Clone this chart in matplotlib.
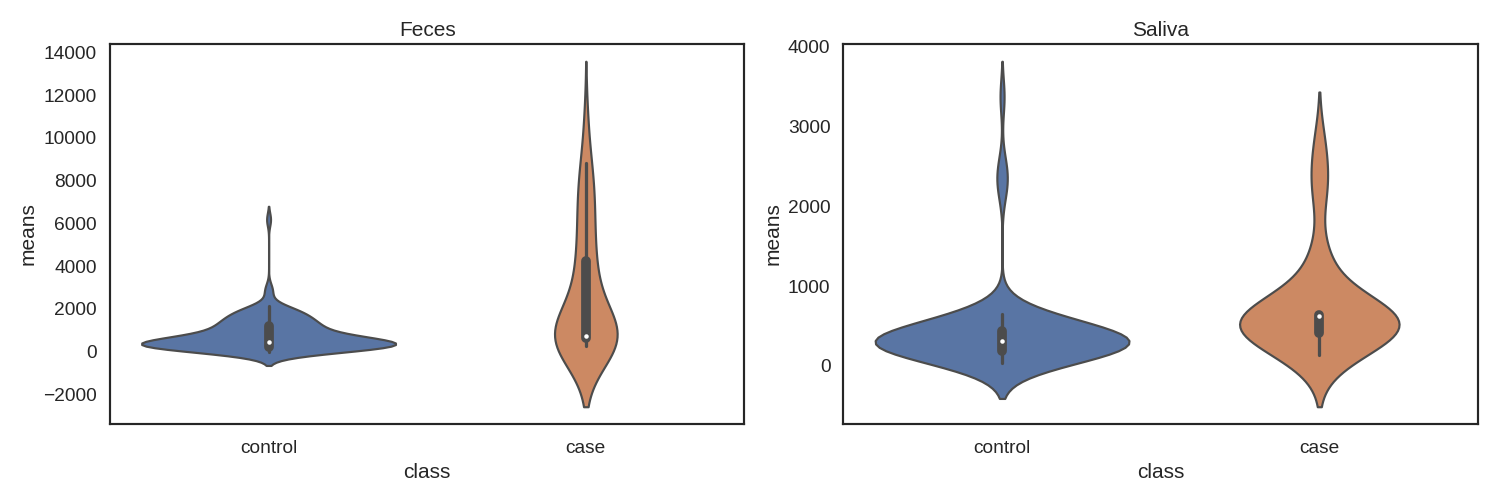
import numpy as np
import pandas as pd
import matplotlib
matplotlib.use("Agg")
import matplotlib.pyplot as plt
import seaborn as sns

# per-sample means
feces_control = [-40, 20, 60, 88, 108, 122, 133, 142, 149, 155,
                 160, 164, 167, 170, 172, 174, 175, 176, 177, 178,
                 178, 179, 179, 180, 180, 180, 181, 181, 182, 182,
                 186, 220, 255, 285, 310, 330, 347, 361, 373, 384,
                 393, 401, 408, 414, 420, 425, 430, 434, 438, 442,
                 445, 448, 451, 453, 455, 457, 458, 459, 459, 460,
                 462, 483, 505, 526, 548, 571, 593, 616, 639, 663,
                 686, 710, 735, 759, 784, 809, 835, 860, 886, 913,
                 939, 966, 993, 1021, 1048, 1076, 1105, 1133, 1162, 1188,
                 1200, 1228, 1256, 1285, 1314, 1344, 1375, 1406, 1438, 1470,
                 1503, 1537, 1571, 1606, 1641, 1677, 1714, 1751, 1789, 1827,
                 1866, 1906, 1946, 1987, 2028, 2070, 2120,
                 2750, 2950, 6180]
feces_case = [240, 310, 380, 430, 480, 520, 560, 590, 620, 640,
              653, 662, 670, 680, 688, 694, 699, 703, 706, 709,
              711, 1000, 1500, 2000, 2500, 3000, 3400, 3700, 3900, 4000,
              5000, 5400, 5900, 6400, 6900, 7400, 7900, 8400, 8830, 10760]
saliva_control = [37, 60, 80, 95, 108, 118, 126, 133, 140, 146,
                  152, 157, 162, 166, 170, 174, 177, 180, 183, 185,
                  190, 215, 235, 252, 265, 275, 283, 289, 294, 298,
                  301, 303, 305, 306, 307, 307, 308, 308, 309, 309,
                  311, 311, 312, 312, 313, 314, 316, 318, 321, 325,
                  330, 336, 343, 351, 360, 370, 382, 396, 412, 428,
                  450, 462, 474, 486, 498, 510, 522, 534, 546, 560,
                  575, 590, 605, 620, 633, 646,
                  2200, 2350, 2500, 3370]
saliva_case = [137, 180, 220, 260, 300, 340, 375, 402,
               440, 480, 520, 560, 590, 610, 618,
               624, 626, 628, 629, 630, 631, 632,
               640, 645, 1050, 1200, 1400, 2150, 2400, 2782]

classes = ["control", "case"]
panels = {"Feces": (feces_control, feces_case),
          "Saliva": (saliva_control, saliva_case)}

sns.set_theme(style="white")
plt.rcParams["font.family"] = ["Liberation Sans", "DejaVu Sans"]
plt.rcParams["axes.labelpad"] = 3.0

fig, axes = plt.subplots(1, 2, figsize=(12, 4), dpi=125)
fig.subplots_adjust(left=0.0733, right=0.9853, top=0.912, bottom=0.152, wspace=0.156)

for ax, (title, (ctrl, case)) in zip(axes, panels.items()):
    df = pd.DataFrame({
        "class": [classes[0]] * len(ctrl) + [classes[1]] * len(case),
        "means": list(ctrl) + list(case),
    })
    sns.violinplot(data=df, x="class", y="means", hue="class", legend=False,
                   common_norm=True, ax=ax)
    # median as a small white dot, like the older seaborn look
    for line in ax.lines:
        if line.get_marker() not in ("None", None, ""):
            line.set_marker("o")
            line.set_markersize(2.6)
            line.set_markeredgewidth(0)
            line.set_markerfacecolor("white")
    ax.tick_params(axis="y", length=0, pad=7.5)
    ax.set_title(title, pad=4.5)

fig.savefig("out.png", dpi=125)
